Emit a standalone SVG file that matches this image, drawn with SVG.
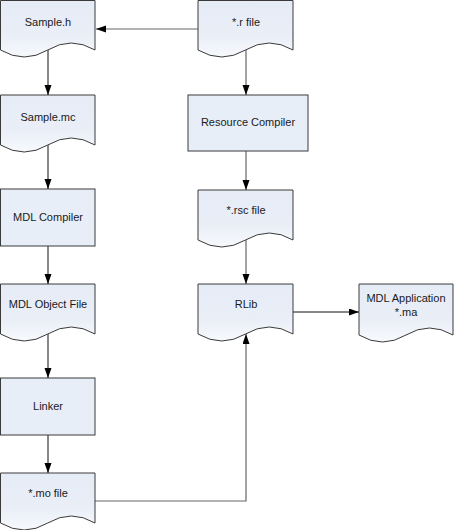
<svg xmlns="http://www.w3.org/2000/svg" width="454" height="530" viewBox="0 0 454 530">
<style>
.box{fill:#E8EEF7;stroke:#3a3a3a;stroke-width:1}
.doc{fill:url(#dg);stroke:#3a3a3a;stroke-width:1}
text{font-family:"Liberation Sans",Arial,sans-serif;font-size:11px;fill:#1a1a1a;text-anchor:middle}
.k{fill:none;stroke:#111;stroke-width:1;marker-end:url(#ah)}
.g{fill:none;stroke:#666;stroke-width:1.2;marker-end:url(#ah)}
</style>
<defs>
<linearGradient id="dg" x1="0" y1="0" x2="0" y2="1">
<stop offset="0" stop-color="#E6ECF6"/>
<stop offset="0.6" stop-color="#E9EEF7"/>
<stop offset="1" stop-color="#F7F9FC"/>
</linearGradient>
<marker id="ah" markerUnits="userSpaceOnUse" markerWidth="10" markerHeight="8" refX="10" refY="3.5" orient="auto">
<path d="M0,0 L10,3.5 L0,7 z" fill="#000"/>
</marker>
</defs>
<g id="connectors">
<path class="g" d="M198,29 H96"/>
<path class="k" d="M48,50 V95"/>
<path class="k" d="M48,145 V189"/>
<path class="k" d="M48,246 V284"/>
<path class="k" d="M48,334 V378"/>
<path class="k" d="M48,435 V473"/>
<path class="g" d="M246,50 V95"/>
<path class="g" d="M246,151 V190"/>
<path class="g" d="M246,240 V284"/>
<path class="k" d="M293,312 H359"/>
<path class="g" d="M95,501 H246 V334"/>
</g>
<g id="sample-h">
<path class="doc" d="M0.5,0.5 H95 V50 Q71.25,36 47.75,50 T0.5,50 Z"/>
<text x="48" y="26">Sample.h</text>
</g>
<g id="sample-mc">
<path class="doc" d="M0.5,95 H95 V145 Q71.25,131 47.75,145 T0.5,145 Z"/>
<text x="48" y="121">Sample.mc</text>
</g>
<g id="mdl-compiler">
<rect class="box" x="0.5" y="189" width="94.5" height="57"/>
<text x="48" y="221">MDL Compiler</text>
</g>
<g id="mdl-object-file">
<path class="doc" d="M0.5,284 H95 V334 Q71.25,320 47.75,334 T0.5,334 Z"/>
<text x="48" y="308">MDL Object File</text>
</g>
<g id="linker">
<rect class="box" x="0.5" y="378" width="94.5" height="57"/>
<text x="48" y="410">Linker</text>
</g>
<g id="mo-file">
<path class="doc" d="M0.5,473 H95 V523 Q71.25,509 47.75,523 T0.5,523 Z"/>
<text x="48" y="497">*.mo file</text>
</g>
<g id="r-file">
<path class="doc" d="M198,0.5 H293 V50 Q269.25,36 245.5,50 T198,50 Z"/>
<text x="246" y="26">*.r file</text>
</g>
<g id="resource-compiler">
<rect class="box" x="188" y="95" width="120" height="56"/>
<text x="248" y="126">Resource Compiler</text>
</g>
<g id="rsc-file">
<path class="doc" d="M198,190 H293 V240 Q269.25,226 245.5,240 T198,240 Z"/>
<text x="246" y="214">*.rsc file</text>
</g>
<g id="rlib">
<path class="doc" d="M198,284 H293 V334 Q269.25,320 245.5,334 T198,334 Z"/>
<text x="246" y="308">RLib</text>
</g>
<g id="mdl-application">
<path class="doc" d="M359,284 H453 V335 Q429.5,321 406,335 T359,335 Z"/>
<text x="406" y="302">MDL Application</text>
<text x="406" y="316">*.ma</text>
</g>
</svg>
